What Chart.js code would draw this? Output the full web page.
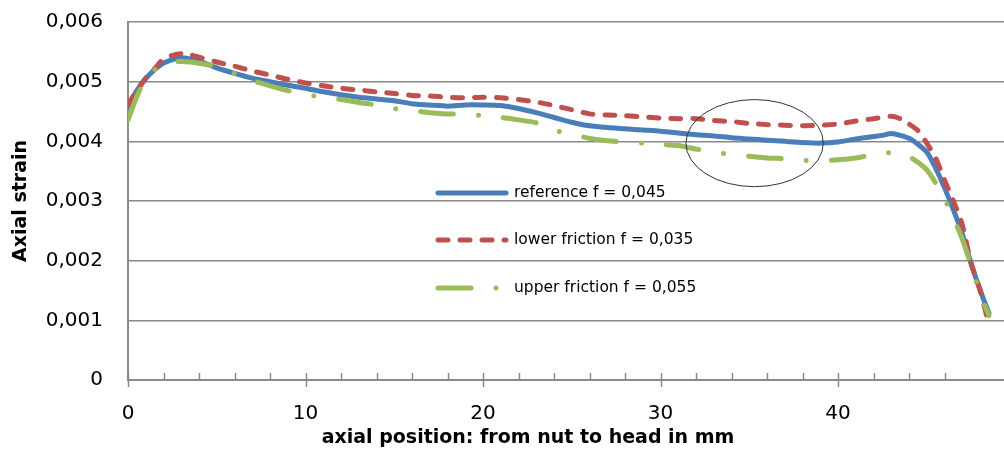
<!DOCTYPE html>
<html>
<head>
<meta charset="utf-8">
<script src="https://cdn.jsdelivr.net/npm/chart.js@4"></script>
<style>
  body { margin: 0; background: #fff; }
  canvas { display: block; }
</style>
</head>
<body>
<canvas id="grafico" width="1004" height="450"></canvas>
<script>
// dati (posizione assiale in mm, deformazione assiale)
const posizioni = [0, 0.5, 1, 1.5, 2, 2.5, 3, 3.5, 4, 5, 6, 7, 8, 9, 10, 11, 12, 13, 14, 15,
    16, 17, 18, 19, 20, 21, 22, 23, 24, 25, 26, 27, 28, 29, 30, 31, 32, 33, 34, 35,
    36, 37, 38, 39, 40, 41, 42, 42.5, 43, 43.5, 44, 44.5, 45, 45.5, 46, 46.5, 47, 47.5, 48, 48.5];

const riferimento = [0.00458, 0.00485, 0.00505, 0.00520, 0.00531, 0.00537, 0.00540, 0.00538, 0.00535, 0.00523,
    0.00514, 0.00506, 0.00500, 0.00494, 0.00489, 0.00483, 0.00478, 0.00474, 0.00471, 0.00468,
    0.00463, 0.00461, 0.00459, 0.00461, 0.00461, 0.00460, 0.00455, 0.00448, 0.00440, 0.00432,
    0.00426, 0.00423, 0.00421, 0.00419, 0.00417, 0.00414, 0.00411, 0.00409, 0.00406, 0.00404,
    0.00402, 0.00400, 0.00398, 0.00397, 0.00399, 0.00404, 0.00408, 0.00410, 0.00413, 0.00410,
    0.00405, 0.00395, 0.00382, 0.00355, 0.00322, 0.00285, 0.00245, 0.00195, 0.00151, 0.00112];

const attritoBasso = [0.00462, 0.00485, 0.00506, 0.00522, 0.00538, 0.00544, 0.00547, 0.00545, 0.00541, 0.00533,
    0.00526, 0.00518, 0.00511, 0.00504, 0.00498, 0.00493, 0.00489, 0.00486, 0.00483, 0.00480,
    0.00477, 0.00476, 0.00474, 0.00473, 0.00474, 0.00473, 0.00470, 0.00466, 0.00460, 0.00453,
    0.00446, 0.00444, 0.00443, 0.00441, 0.00439, 0.00438, 0.00438, 0.00435, 0.00433, 0.00430,
    0.00428, 0.00427, 0.00426, 0.00427, 0.00429, 0.00434, 0.00438, 0.00440, 0.00442, 0.00438,
    0.00429, 0.00418, 0.00397, 0.00372, 0.00335, 0.00300, 0.00260, 0.00195, 0.00151, 0.00092];

const attritoAlto = [0.00436, 0.00475, 0.00505, 0.00520, 0.00531, 0.00533, 0.00534, 0.00533, 0.00531, 0.00525,
    0.00514, 0.00502, 0.00493, 0.00485, 0.00479, 0.00474, 0.00470, 0.00465, 0.00461, 0.00455,
    0.00452, 0.00448, 0.00446, 0.00445, 0.00443, 0.00440, 0.00436, 0.00431, 0.00419, 0.00412,
    0.00405, 0.00401, 0.00399, 0.00397, 0.00395, 0.00393, 0.00387, 0.00382, 0.00378, 0.00375,
    0.00372, 0.00371, 0.00368, 0.00368, 0.00369, 0.00372, 0.00378, 0.00382, 0.00380, 0.00377,
    0.00374, 0.00365, 0.00352, 0.00330, 0.00303, 0.00272, 0.00236, 0.00192, 0.00145, 0.00108];

const etichette = ['reference f = 0,045', 'lower friction f = 0,035', 'upper friction f = 0,055'];
const colori = ['#4a7ebb', '#c0504d', '#9bbb59'];

// ellisse disegnata a mano sul grafico (centro e semiassi in unità degli assi)
const ellisse = { x: 35.3, y: 0.00397, rx: 3.87, ry: 0.00073 };

const FONT = 'DejaVu Sans';

function punti(valori) {
    return posizioni.map((p, i) => ({ x: p, y: valori[i] }));
}

// tacche dell'asse x: minori verso l'interno, maggiori a cavallo dell'asse
const tacchePlugin = {
    id: 'tacche',
    afterDraw(chart) {
        const sx = chart.scales.x;
        const y0 = chart.chartArea.bottom;
        const ctx = chart.ctx;
        ctx.save();
        ctx.strokeStyle = '#8a8a8a';
        ctx.lineWidth = 1.5;
        sx.ticks.forEach(t => {
            const px = Math.round(sx.getPixelForValue(t.value)) + 0.5;
            ctx.beginPath();
            ctx.moveTo(px, y0 - 7);
            ctx.lineTo(px, t.value % 10 === 0 ? y0 + 7 : y0);
            ctx.stroke();
        });
        ctx.restore();
    }
};

const ellissePlugin = {
    id: 'ellisse',
    afterDraw(chart) {
        const sx = chart.scales.x, sy = chart.scales.y;
        const cx = sx.getPixelForValue(ellisse.x);
        const cy = sy.getPixelForValue(ellisse.y);
        const rx = Math.abs(sx.getPixelForValue(ellisse.x + ellisse.rx) - cx);
        const ry = Math.abs(sy.getPixelForValue(ellisse.y + ellisse.ry) - cy);
        const ctx = chart.ctx;
        ctx.save();
        ctx.strokeStyle = '#333';
        ctx.lineWidth = 1;
        ctx.beginPath();
        ctx.ellipse(cx, cy, rx, ry, 0, 0, Math.PI * 2);
        ctx.stroke();
        ctx.restore();
    }
};

// legenda dentro l'area del grafico
const legendaPlugin = {
    id: 'legenda',
    afterDraw(chart) {
        const area = chart.chartArea;
        const ctx = chart.ctx;
        const x0 = area.left + 310;
        const righe = [171, 218, 266];
        ctx.save();
        chart.data.datasets.forEach((ds, i) => {
            const y = area.top + righe[i];
            ctx.strokeStyle = ds.borderColor;
            ctx.lineWidth = ds.borderWidth;
            ctx.lineCap = 'round';
            ctx.setLineDash(ds.borderDash || []);
            ctx.beginPath();
            ctx.moveTo(x0, y);
            ctx.lineTo(x0 + 68, y);
            ctx.stroke();
            ctx.setLineDash([]);
            ctx.fillStyle = '#000';
            ctx.font = '15.5px "' + FONT + '"';
            ctx.textBaseline = 'middle';
            ctx.fillText(ds.label, x0 + 76, y);
        });
        ctx.restore();
    }
};

const titoloXPlugin = {
    id: 'titoloX',
    afterDraw(chart) {
        const ctx = chart.ctx;
        ctx.save();
        ctx.fillStyle = '#000';
        ctx.font = 'bold 19px "' + FONT + '"';
        ctx.textAlign = 'center';
        ctx.textBaseline = 'middle';
        ctx.fillText('axial position: from nut to head in mm', chart.chartArea.left + 400, 438);
        ctx.restore();
    }
};

const sfondoPlugin = {
    id: 'sfondo',
    beforeDraw(chart) {
        const ctx = chart.ctx;
        ctx.save();
        ctx.fillStyle = '#fff';
        ctx.fillRect(0, 0, chart.width, chart.height);
        ctx.restore();
    }
};

new Chart(document.getElementById('grafico'), {
    type: 'line',
    data: {
        datasets: [
            {
                label: etichette[0], data: punti(riferimento), borderColor: colori[0],
                borderWidth: 5, order: 3
            },
            {
                label: etichette[1], data: punti(attritoBasso), borderColor: colori[1],
                borderWidth: 5, borderDash: [10, 12], order: 2
            },
            {
                label: etichette[2], data: punti(attritoAlto), borderColor: colori[2],
                borderWidth: 5, borderDash: [33, 25, 0, 25], order: 1
            }
        ]
    },
    options: {
        responsive: false,
        animation: false,
        devicePixelRatio: 1,
        layout: { padding: { top: 22, right: 0, left: 0, bottom: 0 } },
        elements: {
            point: { radius: 0 },
            line: { tension: 0.25, borderCapStyle: 'round', borderJoinStyle: 'round', fill: false }
        },
        plugins: { legend: { display: false }, tooltip: { enabled: false } },
        scales: {
            x: {
                type: 'linear',
                min: 0,
                max: 49.35,
                afterFit(scale) {
                    scale.height = 70;
                    scale.paddingRight = 0;
                },
                afterBuildTicks(scale) {
                    scale.ticks = scale.ticks.filter(t => Math.abs(t.value / 2 - Math.round(t.value / 2)) < 1e-6);
                },
                ticks: {
                    stepSize: 2,
                    autoSkip: false,
                    maxRotation: 0,
                    padding: 22,
                    color: '#000',
                    font: { family: FONT, size: 20 },
                    callback: v => (v % 10 === 0 ? String(v) : '')
                },
                grid: { display: false, drawTicks: false },
                border: { display: true, color: '#8a8a8a', width: 2 }
            },
            y: {
                min: 0,
                max: 0.006,
                afterFit(scale) {
                    scale.width = 128;
                    scale.paddingTop = 0;
                    scale.paddingBottom = 0;
                },
                ticks: {
                    stepSize: 0.001,
                    padding: 25,
                    color: '#000',
                    font: { family: FONT, size: 20 },
                    callback: v => (v === 0 ? '0' : v.toFixed(3).replace('.', ','))
                },
                grid: { color: '#8a8a8a', lineWidth: 1.5, drawTicks: false },
                border: { display: true, color: '#8a8a8a', width: 2 },
                title: {
                    display: true,
                    text: 'Axial strain',
                    color: '#000',
                    font: { family: FONT, size: 19, weight: 'bold' },
                    padding: { top: 10, bottom: 0 }
                }
            }
        }
    },
    plugins: [sfondoPlugin, tacchePlugin, ellissePlugin, legendaPlugin, titoloXPlugin]
});
</script>
</body>
</html>
